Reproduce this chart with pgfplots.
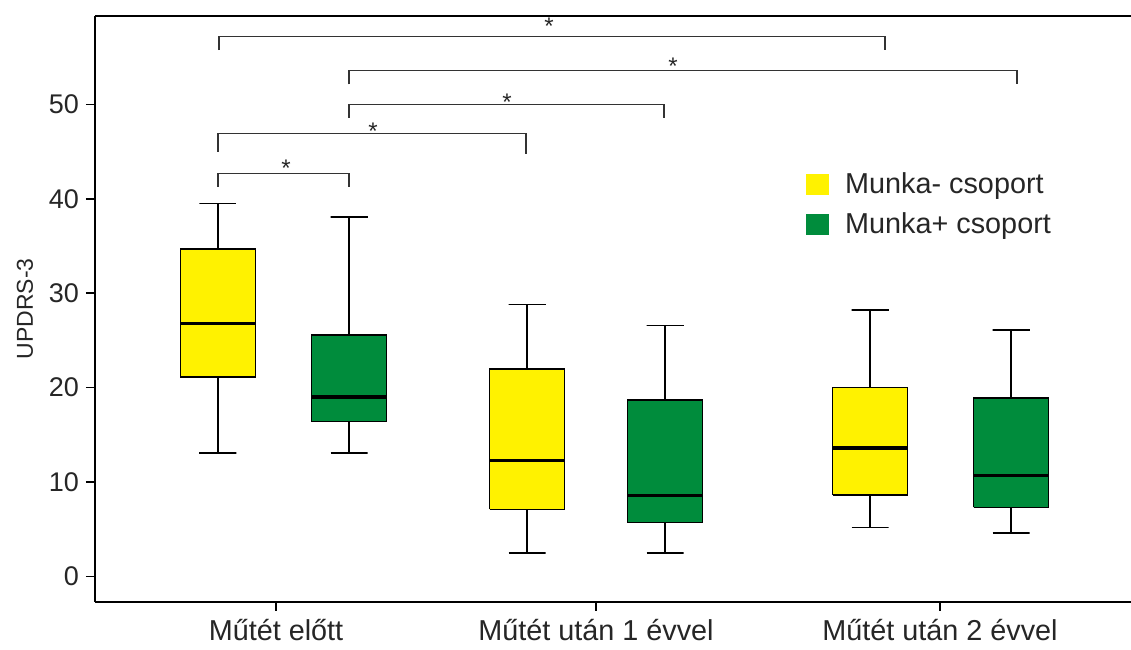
\documentclass[border=0pt]{standalone}
\usepackage{pgfplots}
\pgfplotsset{compat=1.18}
\usepackage{fontspec}
\setmainfont{Liberation Sans}
\definecolor{myyellow}{RGB}{255,242,0}
\definecolor{mygreen}{RGB}{0,140,60}
\begin{document}
\begin{tikzpicture}
\begin{axis}[
  scale only axis,
  width=518pt, height=293pt,
  xmin=95, xmax=1131, ymin=-2.68, ymax=59.4,
  axis x line*=box, axis y line*=left,
  xtick pos=bottom, ytick pos=left,
  axis line style={line width=1.2pt, black},
  tick align=outside, major tick length=4.5pt,
  tick style={line width=0.8pt, black},
  xtick={276,596,940},
  xticklabels={Műtét előtt, Műtét után 1 évvel, Műtét után 2 évvel},
  ytick={0,10,20,30,40,50},
  /pgf/number format/assume math mode=true,
  yticklabel style={font=\fontsize{13.5}{16}\selectfont, text=black!85},
  xticklabel style={font=\fontsize{14.4}{17}\selectfont, text=black!85, yshift=-1pt},
  ylabel={UPDRS-3},
  ylabel style={font=\fontsize{11.5}{14}\selectfont, text=black!85, yshift=1pt},
  legend style={at={(axis cs:800,43.7)}, anchor=north west, draw=none, fill=none,
    font=\fontsize{14.4}{17}\selectfont, row sep=4pt, text=black!85,
    nodes={inner xsep=4pt}},
  legend image code/.code={},
  legend cell align=left,
  clip=false,
  unbounded coords=jump,
]
\addlegendimage{legend image code/.code={\fill[myyellow] (0pt,-5pt) rectangle (11pt,5pt); \path (15pt,0pt);}}
\addlegendentry{Munka- csoport}
\addlegendimage{legend image code/.code={\fill[mygreen] (0pt,-5pt) rectangle (11pt,5pt); \path (15pt,0pt);}}
\addlegendentry{Munka+ csoport}
% ---- group 1, yellow (Munka-): whiskers 13.1/39.5, box 21.1-34.7, median 26.8
\addplot[black, line width=0.8pt, forget plot] coordinates {(199.5,13.1) (236.5,13.1) (218,13.1) (218,21.1) (218,nan) (218,34.7) (218,39.5) (199.5,39.5) (236.5,39.5)};
\addplot[fill=myyellow, draw=black, line width=0.8pt, forget plot] coordinates {(180.5,21.1) (255.5,21.1) (255.5,34.7) (180.5,34.7) (180.5,21.1)};
\addplot[black, line width=1.6pt, forget plot] coordinates {(180.5,26.8) (255.5,26.8)};
% ---- group 1, green (Munka+): whiskers 13.1/38.1, box 16.4-25.6, median 19.0
\addplot[black, line width=0.8pt, forget plot] coordinates {(330.5,13.1) (367.5,13.1) (349,13.1) (349,16.4) (349,nan) (349,25.6) (349,38.1) (330.5,38.1) (367.5,38.1)};
\addplot[fill=mygreen, draw=black, line width=0.8pt, forget plot] coordinates {(311.5,16.4) (386.5,16.4) (386.5,25.6) (311.5,25.6) (311.5,16.4)};
\addplot[black, line width=1.6pt, forget plot] coordinates {(311.5,19.0) (386.5,19.0)};
% ---- group 2, yellow: whiskers 2.5/28.8, box 7.1-22.0, median 12.3
\addplot[black, line width=0.8pt, forget plot] coordinates {(508.5,2.5) (545.5,2.5) (527,2.5) (527,7.1) (527,nan) (527,22.0) (527,28.8) (508.5,28.8) (545.5,28.8)};
\addplot[fill=myyellow, draw=black, line width=0.8pt, forget plot] coordinates {(489.5,7.1) (564.5,7.1) (564.5,22.0) (489.5,22.0) (489.5,7.1)};
\addplot[black, line width=1.6pt, forget plot] coordinates {(489.5,12.3) (564.5,12.3)};
% ---- group 2, green: whiskers 2.5/26.6, box 5.7-18.7, median 8.6
\addplot[black, line width=0.8pt, forget plot] coordinates {(646.5,2.5) (683.5,2.5) (665,2.5) (665,5.7) (665,nan) (665,18.7) (665,26.6) (646.5,26.6) (683.5,26.6)};
\addplot[fill=mygreen, draw=black, line width=0.8pt, forget plot] coordinates {(627.5,5.7) (702.5,5.7) (702.5,18.7) (627.5,18.7) (627.5,5.7)};
\addplot[black, line width=1.6pt, forget plot] coordinates {(627.5,8.6) (702.5,8.6)};
% ---- group 3, yellow: whiskers 5.2/28.2, box 8.6-20.0, median 13.6
\addplot[black, line width=0.8pt, forget plot] coordinates {(851.5,5.2) (888.5,5.2) (870,5.2) (870,8.6) (870,nan) (870,20.0) (870,28.2) (851.5,28.2) (888.5,28.2)};
\addplot[fill=myyellow, draw=black, line width=0.8pt, forget plot] coordinates {(832.5,8.6) (907.5,8.6) (907.5,20.0) (832.5,20.0) (832.5,8.6)};
\addplot[black, line width=1.6pt, forget plot] coordinates {(832.5,13.6) (907.5,13.6)};
% ---- group 3, green: whiskers 4.6/26.1, box 7.3-18.9, median 10.7
\addplot[black, line width=0.8pt, forget plot] coordinates {(992.5,4.6) (1029.5,4.6) (1011,4.6) (1011,7.3) (1011,nan) (1011,18.9) (1011,26.1) (992.5,26.1) (1029.5,26.1)};
\addplot[fill=mygreen, draw=black, line width=0.8pt, forget plot] coordinates {(973.5,7.3) (1048.5,7.3) (1048.5,18.9) (973.5,18.9) (973.5,7.3)};
\addplot[black, line width=1.6pt, forget plot] coordinates {(973.5,10.7) (1048.5,10.7)};
% ---- significance brackets
\addplot[black!80, line width=0.6pt, forget plot] coordinates {(219,55.75) (219,57.16) (885,57.16) (885,55.75)};
\addplot[black!80, line width=0.6pt, forget plot] coordinates {(349,52.13) (349,53.6) (1017,53.6) (1017,52.13)};
\addplot[black!80, line width=0.6pt, forget plot] coordinates {(349,48.6) (349,50.0) (664,50.0) (664,48.6)};
\addplot[black!80, line width=0.6pt, forget plot] coordinates {(218,45.0) (218,46.9) (526,46.9) (526,44.7)};
\addplot[black!80, line width=0.6pt, forget plot] coordinates {(218,41.3) (218,42.7) (349,42.7) (349,41.3)};
\node[font=\fontsize{12}{14}\selectfont, text=black!85] at (axis cs:549,58.3) {*};
\node[font=\fontsize{12}{14}\selectfont, text=black!85] at (axis cs:673,54.0) {*};
\node[font=\fontsize{12}{14}\selectfont, text=black!85] at (axis cs:507,50.2) {*};
\node[font=\fontsize{12}{14}\selectfont, text=black!85] at (axis cs:373,47.2) {*};
\node[font=\fontsize{12}{14}\selectfont, text=black!85] at (axis cs:286,43.2) {*};
\coordinate (bl) at (rel axis cs:0,0);
\coordinate (tr) at (rel axis cs:1,1);
\end{axis}
\pgfresetboundingbox
\path ([xshift=-47.5pt,yshift=-24pt]bl) rectangle ([yshift=7.85pt]tr);
\end{tikzpicture}
\end{document}
